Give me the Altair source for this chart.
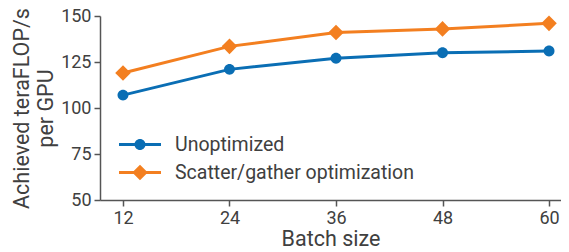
import altair as alt
import pandas as pd

batch_sizes = [12, 24, 36, 48, 60]
series_names = ["Unoptimized", "Scatter/gather optimization"]
unoptimized = [107, 121, 127, 130, 131]
scatter_gather = [119, 133.5, 141, 143, 146]
colors = ["#0a6eb4", "#f37f20"]

rows = []
for b, v in zip(batch_sizes, unoptimized):
    rows.append({"batch": b, "value": v, "series": series_names[0]})
for b, v in zip(batch_sizes, scatter_gather):
    rows.append({"batch": b, "value": v, "series": series_names[1]})
df = pd.DataFrame(rows)

circle = "M0.26,0A0.26,0.26,0,1,1,-0.26,0A0.26,0.26,0,1,1,0.26,0Z"
diamond = "M0,-0.37L0.37,0L0,0.37L-0.37,0Z"
legend_circle = "M-2,-0.143H2V0.143H-2ZM0.524,0A0.524,0.524,0,1,1,-0.524,0A0.524,0.524,0,1,1,0.524,0Z"
legend_diamond = "M-2,-0.143H2V0.143H-2ZM0,-0.74L0.74,0L0,0.74L-0.74,0Z"

legend_props = dict(title=None, orient="none", legendX=28.5, legendY=117,
                    symbolSize=441, labelOffset=23.5, rowPadding=7,
                    padding=0, labelFontSize=19.5, labelColor="#404040",
                    labelLimit=400, symbolOpacity=1)

color_scale = alt.Scale(domain=series_names, range=colors)
x_enc = alt.X("batch:Q", scale=alt.Scale(domain=[9.41, 61.35], nice=False, zero=False),
              axis=alt.Axis(values=batch_sizes, title="Batch size", grid=False))
y_enc = alt.Y("value:Q", scale=alt.Scale(domain=[50, 150], nice=False, zero=False),
              axis=alt.Axis(values=[50, 75, 100, 125, 150],
                            title=["Achieved teraFLOP/s", "per GPU"], grid=False))

lines = alt.Chart(df).mark_line(strokeWidth=3).encode(
    x=x_enc, y=y_enc,
    color=alt.Color("series:N", scale=color_scale, legend=None),
)

points = alt.Chart(df).mark_point(filled=True, opacity=1, size=1764).encode(
    x=x_enc, y=y_enc,
    color=alt.Color("series:N", scale=color_scale, legend=None),
    shape=alt.Shape("series:N", scale=alt.Scale(domain=series_names, range=[circle, diamond]),
                    legend=None),
)

legend_layer = alt.Chart(df).transform_filter("datum.value < 0").mark_point(
    filled=True, opacity=1, size=441).encode(
    x=x_enc, y=y_enc,
    fill=alt.Fill("series:N", scale=alt.Scale(domain=series_names, range=colors),
                  legend=alt.Legend(**legend_props)),
    shape=alt.Shape("series:N", scale=alt.Scale(domain=series_names,
                                                range=[legend_circle, legend_diamond]),
                    legend=alt.Legend(**legend_props)),
)

chart = alt.layer(lines, points, legend_layer).resolve_scale(
    shape="independent", fill="independent").properties(
    width=461, height=184,
    autosize=alt.AutoSizeParams(type="none"),
    padding={"left": 92, "top": 8, "right": 0, "bottom": 52},
).configure(font="Roboto").configure_view(stroke=None).configure_axis(
    labelFontSize=18, titleFontSize=21.5, labelColor="#404040", titleColor="#404040",
    titleFontWeight="normal", domainColor="#555555", tickColor="#555555",
    domainWidth=1.5, tickWidth=1.5, tickSize=6, labelPadding=3,
).configure_axisX(titlePadding=1).configure_axisY(titleLineHeight=24, titlePadding=3)

chart.save("out.html", embed_options={"renderer": "svg", "actions": False})
